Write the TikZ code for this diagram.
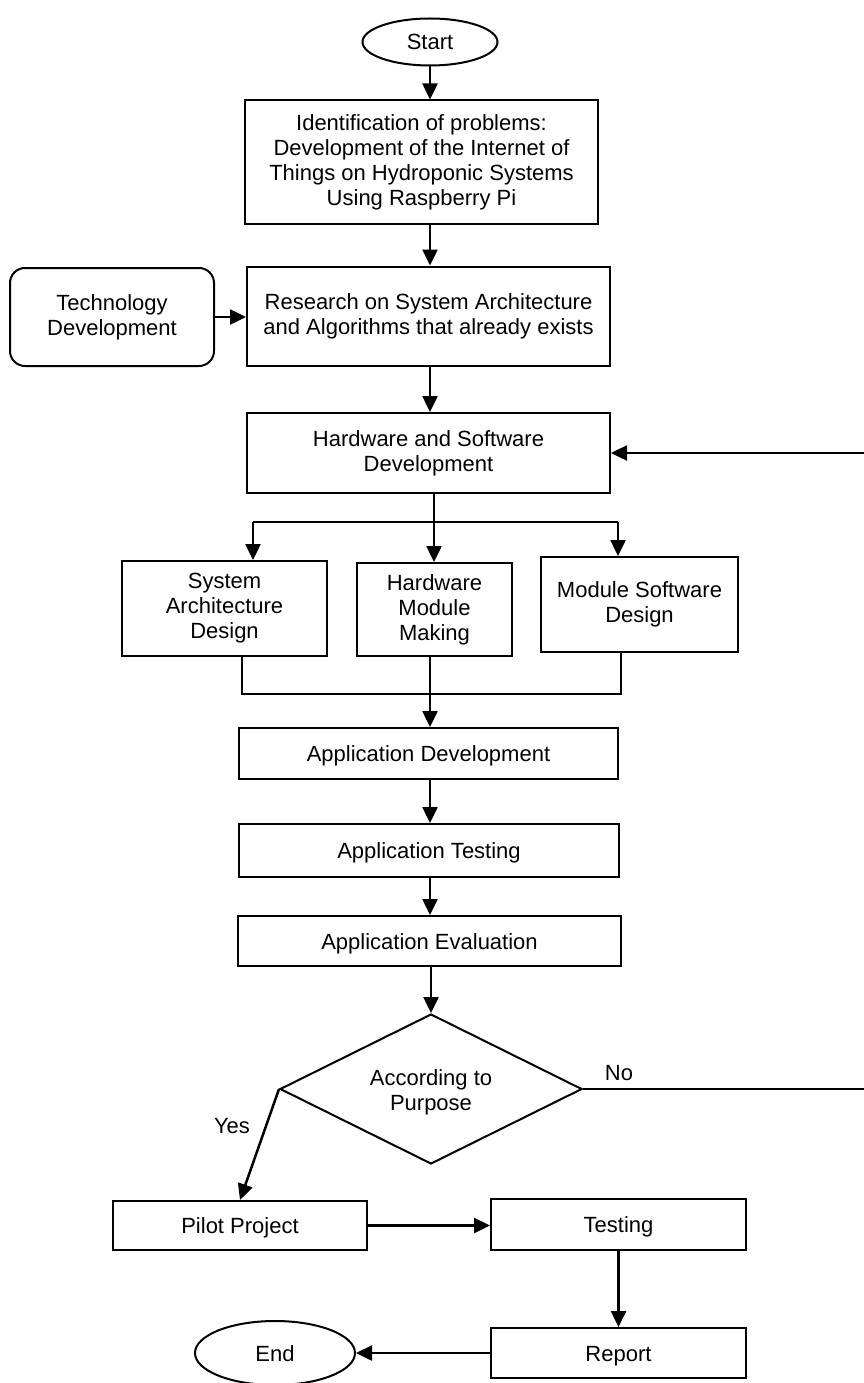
\documentclass[tikz,border=0pt]{standalone}
\usepackage{fontspec}
\setmainfont{Liberation Sans}
\usetikzlibrary{shapes.geometric,arrows.meta}
\begin{document}
\begin{tikzpicture}[x=1pt,y=-1pt,
  every node/.style={font=\fontsize{22}{25}\selectfont, align=center, inner sep=0pt},
  box/.style={draw, line width=2pt, rectangle},
  one/.style={text height=16pt, text depth=0pt},
  term/.style={draw, line width=2pt, ellipse},
  arr/.style={line width=2.5pt, -{Triangle[length=16pt,width=15pt]}},
  ln/.style={line width=2pt}]
\fill[white] (0,0) rectangle (864,1383);
\useasboundingbox (0,0) rectangle (864,1383);

\coordinate (col) at (430,0);

\node[term, one, minimum width=135pt, minimum height=47pt] (start) at (430,42) {Start};
\node[box, minimum width=353pt, minimum height=123pt] (ident) at (421.5,162)
  {Identification of problems:\\Development of the Internet of\\Things on Hydroponic Systems\\Using Raspberry Pi};
\node[box, rounded corners=15pt, minimum width=204pt, minimum height=98pt] (tech) at (112,317)
  {Technology\\Development};
\node[box, minimum width=363pt, minimum height=99pt] (research) at (428.5,316)
  {Research on System Architecture\\and Algorithms that already exists};
\node[box, minimum width=363pt, minimum height=80pt] (hw) at (428.5,453)
  {Hardware and Software\\Development};
\node[box, minimum width=205pt, minimum height=95pt] (sad) at (224.5,608.5)
  {System\\Architecture\\Design};
\node[box, minimum width=155pt, minimum height=93pt] (hmm) at (434.5,609.5)
  {Hardware\\Module\\Making};
\node[box, minimum width=197pt, minimum height=95pt] (msd) at (639.5,604.5)
  {Module Software\\Design};
\node[box, one, minimum width=379pt, minimum height=51pt] (appdev) at (428.5,753.5)
  {Application Development};
\node[box, one, minimum width=380pt, minimum height=53pt] (apptest) at (429,850.5)
  {Application Testing};
\node[box, one, minimum width=383pt, minimum height=50pt] (appeval) at (429.5,941)
  {Application Evaluation};
\node[draw, diamond, aspect=2, line width=2pt, minimum width=302pt, minimum height=150pt] (dec) at (431,1089)
  {\raisebox{-3pt}[\height][\depth]{\parbox{150pt}{\centering According to\\Purpose}}};
\node[box, one, minimum width=254pt, minimum height=49pt] (pilot) at (240,1225.5) {Pilot Project};
\node[box, one, minimum width=255pt, minimum height=51pt] (testing) at (618.5,1224.5) {Testing};
\node[box, one, minimum width=255pt, minimum height=50pt] (report) at (618.5,1353) {Report};
\node[term, one, minimum width=160pt, minimum height=64pt] (end) at (275,1353) {End};

\node[one] (no) at (619,1072) {No};
\node[one] (yes) at (232,1125) {Yes};

% connectors
\draw[arr] (start.south) -- (start.south |- ident.north);
\draw[arr] (ident.south -| col) -- (research.north -| col);
\draw[arr] (tech.east) -- (tech.east -| research.west);
\draw[arr] (research.south -| col) -- (hw.north -| col);

\coordinate (split) at (434,522);
\coordinate (bl) at (253,522);
\coordinate (br) at (618,522);
\draw[ln] (hw.south -| split) -- (split);
\draw[ln] (bl) -- (br);
\draw[arr] (bl) -- (bl |- sad.north);
\draw[arr] (split) -- (split |- hmm.north);
\draw[arr] (br) -- (br |- msd.north);

\coordinate (jl) at (242,694);
\coordinate (jr) at (621,694);
\coordinate (jm) at (430,694);
\draw[ln] (jl |- sad.south) -- (jl) -- (jr) -- (jr |- msd.south);
\draw[arr] (jm |- hmm.south) -- (jm |- appdev.north);

\draw[arr] (appdev.south -| col) -- (apptest.north -| col);
\draw[arr] (apptest.south -| col) -- (appeval.north -| col);
\draw[arr] (appeval.south -| dec.north) -- (dec.north);

\coordinate (fb) at (866,1089);
\draw[arr] (dec.east) -- (fb) -- (fb |- hw.east) -- (hw.east);

\draw[arr] (dec.west) -- (pilot.north);
\draw[arr] (pilot.east) -- (pilot.east -| testing.west);
\draw[arr] (testing.south) -- (report.north);
\draw[arr] (report.west) -- (end.east);
\end{tikzpicture}
\end{document}
